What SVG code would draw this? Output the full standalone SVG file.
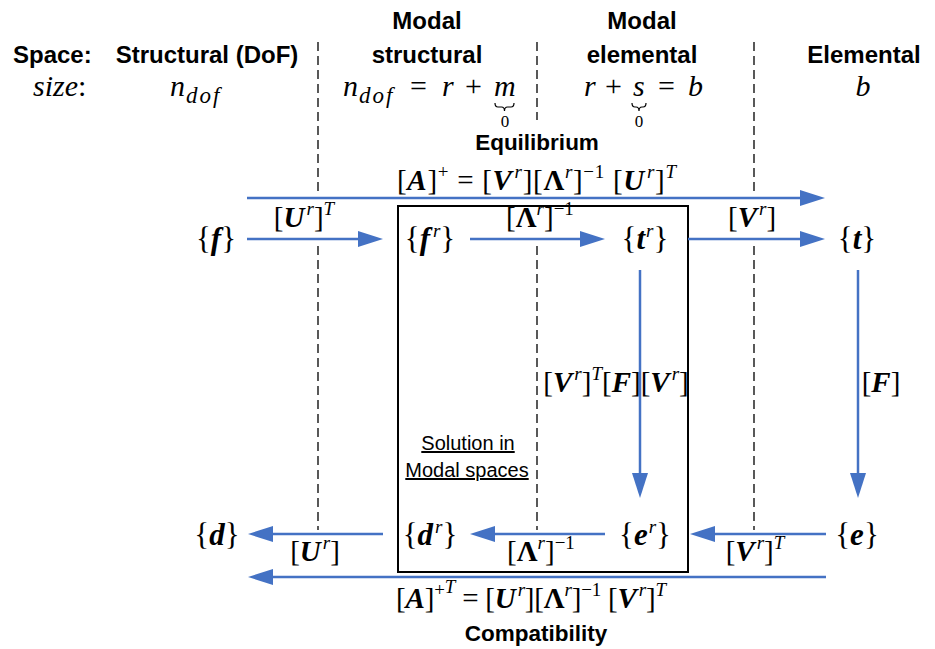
<svg xmlns="http://www.w3.org/2000/svg" width="935" height="649" viewBox="0 0 935 649">
<style>
.hdr{font-family:"Liberation Sans",Arial,sans-serif;font-weight:bold;font-size:24px;fill:#000}
.lbl{font-family:"Liberation Sans",Arial,sans-serif;font-weight:bold;font-size:22.5px;fill:#000}
.sol{font-family:"Liberation Sans",Arial,sans-serif;font-size:20px;fill:#000;text-decoration:underline}
.m{font-family:"Liberation Serif","DejaVu Serif",serif;font-size:29px;fill:#000}
.s{font-size:30px}
.n{font-size:31px}
.i{font-style:italic}
.bi{font-weight:bold;font-style:italic}
.b{font-weight:bold}
.sup{font-size:19px}
.sub{font-family:"Liberation Serif","DejaVu Serif",serif;font-size:23px;font-style:italic}
.zero{font-family:"Liberation Serif","DejaVu Serif",serif;font-size:17px}
.dash{stroke:#000;stroke-width:1.3;stroke-dasharray:9 5;fill:none}
.arr{stroke:#4472C4;stroke-width:2.5;fill:none;marker-end:url(#ah)}
.brace{stroke:#000;stroke-width:1.2;fill:none}
</style>
<defs>
<marker id="ah" markerUnits="userSpaceOnUse" markerWidth="26" markerHeight="16" refX="13" refY="8" orient="auto">
<path d="M0,0 L25,8 L0,16 z" fill="#4472C4"/>
</marker>
</defs>
<rect width="935" height="649" fill="#fff"/>

<g id="space-lines">
<line class="dash" x1="318" y1="42" x2="318" y2="192"/>
<line class="dash" x1="318" y1="246" x2="318" y2="530"/>
<line class="dash" x1="537" y1="42" x2="537" y2="120"/>
<line class="dash" x1="537" y1="246" x2="537" y2="530"/>
<line class="dash" x1="754" y1="42" x2="754" y2="192"/>
<line class="dash" x1="754" y1="246" x2="754" y2="530"/>
</g>

<g id="header">
<text class="hdr" x="13" y="63">Space:</text>
<text class="hdr" x="207" y="63" text-anchor="middle">Structural (DoF)</text>
<text class="hdr" x="427" y="29" text-anchor="middle">Modal</text>
<text class="hdr" x="427" y="63" text-anchor="middle">structural</text>
<text class="hdr" x="642" y="29" text-anchor="middle">Modal</text>
<text class="hdr" x="642" y="63" text-anchor="middle">elemental</text>
<text class="hdr" x="864" y="63" text-anchor="middle">Elemental</text>
</g>

<g id="sizes">
<text class="m s" x="33" y="96"><tspan class="i">size</tspan>:</text>
<text class="m s i" x="170" y="96">n</text>
<text class="sub" x="186" y="103" letter-spacing="2">dof</text>
<text class="m s i" x="343" y="96">n</text>
<text class="sub" x="359" y="103" letter-spacing="2">dof</text>
<text class="m s" x="410" y="96">=</text>
<text class="m s i" x="442" y="96">r</text>
<text class="m s" x="465" y="96">+</text>
<text class="m s i" x="494" y="96">m</text>
<path class="brace" d="M495,103 q0,4 3,4 h3.5 q3,0 3,4 q0,-4 3,-4 h3.5 q3,0 3,-4"/>
<text class="zero" x="505" y="127" text-anchor="middle">0</text>
<text class="m s i" x="584" y="96">r</text>
<text class="m s" x="605" y="96">+</text>
<text class="m s i" x="633" y="96">s</text>
<text class="m s" x="658" y="96">=</text>
<text class="m s i" x="688" y="96">b</text>
<path class="brace" d="M632,103 q0,4 3,4 h1 q3,0 3,4 q0,-4 3,-4 h1 q3,0 3,-4"/>
<text class="zero" x="639" y="127" text-anchor="middle">0</text>
<text class="m s i" x="863" y="96" text-anchor="middle">b</text>
</g>

<g id="equilibrium">
<text class="lbl" x="537" y="150" text-anchor="middle">Equilibrium</text>
<text class="m" x="397" y="190" textLength="279" lengthAdjust="spacing">[<tspan class="bi">A</tspan>]<tspan class="sup" dy="-12">+</tspan><tspan dy="12"> = [</tspan><tspan class="bi">V</tspan><tspan class="sup i" dx="2" dy="-12">r</tspan><tspan dy="12">][</tspan><tspan class="b">Λ</tspan><tspan class="sup i" dy="-12">r</tspan><tspan dy="12">]</tspan><tspan class="sup" dy="-12">−1</tspan><tspan dy="12"> [</tspan><tspan class="bi">U</tspan><tspan class="sup i" dx="2" dy="-12">r</tspan><tspan dy="12">]</tspan><tspan class="sup i" dy="-12">T</tspan></text>
</g>

<g id="compatibility">
<text class="m" x="396" y="608" textLength="270" lengthAdjust="spacing">[<tspan class="bi">A</tspan>]<tspan class="sup" dy="-12">+</tspan><tspan class="sup i" dy="-3">T</tspan><tspan dy="15"> = [</tspan><tspan class="bi">U</tspan><tspan class="sup i" dx="2" dy="-12">r</tspan><tspan dy="12">][</tspan><tspan class="b">Λ</tspan><tspan class="sup i" dy="-12">r</tspan><tspan dy="12">]</tspan><tspan class="sup" dy="-12">−1</tspan><tspan dy="12"> [</tspan><tspan class="bi">V</tspan><tspan class="sup i" dx="2" dy="-12">r</tspan><tspan dy="12">]</tspan><tspan class="sup i" dy="-12">T</tspan></text>
<text class="lbl" x="536" y="641" text-anchor="middle">Compatibility</text>
</g>

<g id="modal-box">
<rect x="398" y="206" width="290" height="366" fill="none" stroke="#000" stroke-width="2"/>
<text class="sol" x="468" y="450" text-anchor="middle">Solution in</text>
<text class="sol" x="467" y="477" text-anchor="middle">Modal spaces</text>
</g>

<g id="node-f"><text class="m n" x="216" y="249" text-anchor="middle">{<tspan class="bi">f</tspan>}</text></g>
<g id="node-fr"><text class="m n" x="430" y="249" text-anchor="middle">{<tspan class="bi">f</tspan><tspan class="sup i" dx="3" dy="-12">r</tspan><tspan dy="12">}</tspan></text></g>
<g id="node-tr"><text class="m n" x="645" y="249" text-anchor="middle">{<tspan class="bi">t</tspan><tspan class="sup i" dx="1" dy="-12">r</tspan><tspan dy="12">}</tspan></text></g>
<g id="node-t"><text class="m n" x="857" y="249" text-anchor="middle">{<tspan class="bi">t</tspan>}</text></g>
<g id="node-d"><text class="m n" x="217" y="545" text-anchor="middle">{<tspan class="bi">d</tspan>}</text></g>
<g id="node-dr"><text class="m n" x="430" y="545" text-anchor="middle">{<tspan class="bi">d</tspan><tspan class="sup i" dx="2" dy="-12">r</tspan><tspan dy="12">}</tspan></text></g>
<g id="node-er"><text class="m n" x="645" y="545" text-anchor="middle">{<tspan class="bi">e</tspan><tspan class="sup i" dx="1" dy="-12">r</tspan><tspan dy="12">}</tspan></text></g>
<g id="node-e"><text class="m n" x="857" y="545" text-anchor="middle">{<tspan class="bi">e</tspan>}</text></g>

<g id="connectors">
<line class="arr" x1="247" y1="198" x2="813" y2="198"/>
<line class="arr" x1="247" y1="239" x2="371" y2="239"/>
<line class="arr" x1="470" y1="239" x2="593" y2="239"/>
<line class="arr" x1="688" y1="239" x2="813" y2="239"/>
<line class="arr" x1="640" y1="270" x2="640" y2="486"/>
<line class="arr" x1="858" y1="270" x2="858" y2="486"/>
<line class="arr" x1="826" y1="534" x2="702" y2="534"/>
<line class="arr" x1="605" y1="534" x2="482" y2="534"/>
<line class="arr" x1="383" y1="534" x2="260" y2="534"/>
<line class="arr" x1="826" y1="577" x2="260" y2="577"/>
</g>

<g id="connector-labels">
<text class="m" x="304" y="227" text-anchor="middle">[<tspan class="bi">U</tspan><tspan class="sup i" dx="2" dy="-12">r</tspan><tspan dy="12">]</tspan><tspan class="sup i" dy="-12">T</tspan></text>
<text class="m" x="540" y="227" text-anchor="middle">[<tspan class="b">Λ</tspan><tspan class="sup i" dy="-12">r</tspan><tspan dy="12">]</tspan><tspan class="sup" dy="-12">−1</tspan></text>
<text class="m" x="752" y="227" text-anchor="middle">[<tspan class="bi">V</tspan><tspan class="sup i" dx="2" dy="-12">r</tspan><tspan dy="12">]</tspan></text>
<text class="m" x="616" y="392" text-anchor="middle">[<tspan class="bi">V</tspan><tspan class="sup i" dx="2" dy="-12">r</tspan><tspan dy="12">]</tspan><tspan class="sup i" dy="-12">T</tspan><tspan dy="12">[</tspan><tspan class="bi">F</tspan>][<tspan class="bi">V</tspan><tspan class="sup i" dx="2" dy="-12">r</tspan><tspan dy="12">]</tspan></text>
<text class="m" x="881" y="392" text-anchor="middle">[<tspan class="bi">F</tspan>]</text>
<text class="m" x="315" y="561" text-anchor="middle">[<tspan class="bi">U</tspan><tspan class="sup i" dx="2" dy="-12">r</tspan><tspan dy="12">]</tspan></text>
<text class="m" x="541" y="561" text-anchor="middle">[<tspan class="b">Λ</tspan><tspan class="sup i" dy="-12">r</tspan><tspan dy="12">]</tspan><tspan class="sup" dy="-12">−1</tspan></text>
<text class="m" x="755" y="561" text-anchor="middle">[<tspan class="bi">V</tspan><tspan class="sup i" dx="2" dy="-12">r</tspan><tspan dy="12">]</tspan><tspan class="sup i" dy="-12">T</tspan></text>
</g>
</svg>
